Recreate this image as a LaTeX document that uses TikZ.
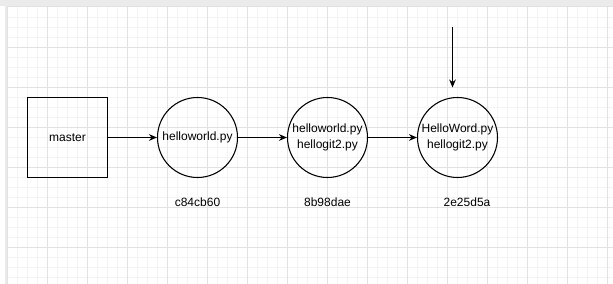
\documentclass[tikz,border=0pt]{standalone}
\usepackage{fontspec}
\setmainfont{Liberation Sans}
\usetikzlibrary{arrows.meta}

\definecolor{gridminor}{HTML}{F3F3F3}
\definecolor{gridmajor}{HTML}{E2E2E2}
\definecolor{frameshade}{HTML}{EBEBEB}

\begin{document}
\begin{tikzpicture}[x=0.75pt,y=-0.75pt,
  every node/.style={font=\fontsize{9}{11.8}\selectfont},
  branch/.style={draw,line width=0.8pt,minimum size=60pt,inner sep=0pt},
  commit/.style={draw,circle,line width=0.8pt,minimum size=60pt,inner sep=0pt,align=center},
  hash/.style={inner sep=1pt},
  link/.style={-{Stealth[length=6pt,width=5pt]},line width=0.8pt}]

\useasboundingbox (0,0) rectangle (613,284);

% Canvas background
\fill[white] (0,0) rectangle (613,284);

% Grid (minor every 10px, major every 40px)
\foreach \gx in {17.5,27.5,...,612} {
  \draw[gridminor,line width=0.75pt] (\gx,7) -- (\gx,284);
}
\foreach \gy in {17.5,27.5,...,284} {
  \draw[gridminor,line width=0.75pt] (7,\gy) -- (613,\gy);
}
\foreach \gx in {47.5,87.5,...,612} {
  \draw[gridmajor,line width=0.75pt] (\gx,7) -- (\gx,284);
}
\foreach \gy in {47.5,87.5,...,284} {
  \draw[gridmajor,line width=0.75pt] (7,\gy) -- (613,\gy);
}

% Frame shading along top and left
\fill[frameshade] (0,0) rectangle (613,6);
\fill[frameshade] (4.5,6) rectangle (7,284);
\draw[gridmajor,line width=0.75pt] (7,6.5) -- (613,6.5);
\draw[gridmajor,line width=0.75pt] (7,6.5) -- (7,284);

% Branch and commits
\node[branch] (master) at (67.5,137.5) {master};
\node[commit] (c1) at (197.5,137.5) {helloworld.py};
\node[commit] (c2) at (327.5,137.5) {helloworld.py\\hellogit2.py};
\node[commit] (c3) at (457.5,137.5) {HelloWord.py\\hellogit2.py};

% Commit ids
\node[hash] (h1) at (197.5,202) {c84cb60};
\node[hash] (h2) at (327.5,202) {8b98dae};
\node[hash] (h3) at (467,202) {2e25d5a};

% Links
\draw[link] (master) -- (c1);
\draw[link] (c1) -- (c2);
\draw[link] (c2) -- (c3);

% Pointer above the last commit
\coordinate (ptrtop) at (452.5,27);
\coordinate (ptrend) at (452.5,87.5);
\draw[link] (ptrtop) -- (ptrend);

\end{tikzpicture}
\end{document}
